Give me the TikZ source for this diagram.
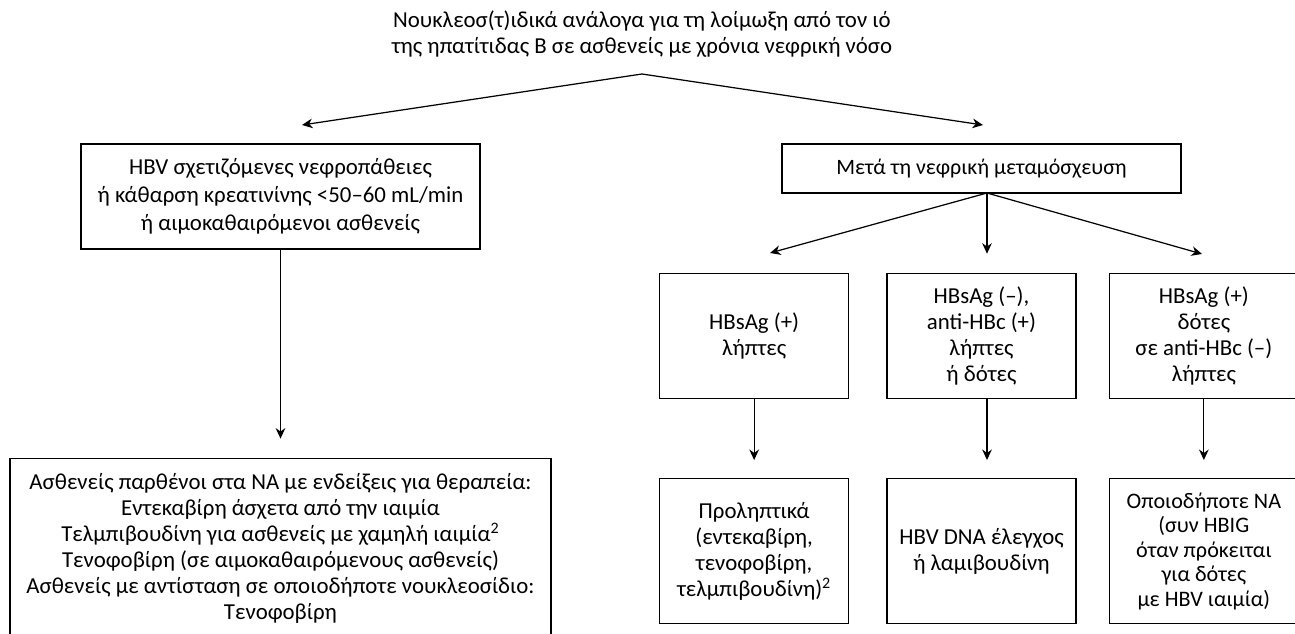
\documentclass[tikz,border=0pt]{standalone}
\usepackage{fontspec}
\setmainfont{Carlito}
\usepackage{tikz}
\usetikzlibrary{arrows.meta, positioning}

\begin{document}
\begin{tikzpicture}[x=0.02cm, y=-0.02cm,
      every node/.style={font=\fontsize{13}{14.8}\selectfont, align=center},
      box/.style={draw, line width=0.8pt, inner sep=2pt},
      arr/.style={line width=0.7pt, -{Stealth[length=6pt, width=5.5pt]}}]
      \useasboundingbox (0,0) rectangle (1295,634);
      \node (title) at (642,34) {Νουκλεοσ(τ)ιδικά ανάλογα για τη λοίμωξη από τον ιό\\
            της ηπατίτιδας Β σε ασθενείς με χρόνια νεφρική νόσο};
      \node[box, font=\fontsize{13}{15.8}\selectfont, minimum width=7.98cm, minimum height=2.1cm] (hbv) at (280.5,196.5)
            {HBV σχετιζόμενες νεφροπάθειες\\ή κάθαρση κρεατινίνης <50–60 mL/min\\ή αιμοκαθαιρόμενοι ασθενείς};
      \node[box, font=\fontsize{12.5}{14}\selectfont, minimum width=7.98cm, minimum height=0.98cm] (after) at (981.5,168.5)
            {Μετά τη νεφρική μεταμόσχευση};
      \node[box, minimum width=10.82cm, minimum height=3.6cm, below=4.16cm of hbv] (naive)
            {Ασθενείς παρθένοι στα ΝΑ με ενδείξεις για θεραπεία:\\
             Εντεκαβίρη άσχετα από την ιαιμία\\
             Τελμπιβουδίνη για ασθενείς με χαμηλή ιαιμία\textsuperscript{2}\\
             Τενοφοβίρη (σε αιμοκαθαιρόμενους ασθενείς)\\
             Ασθενείς με αντίσταση σε οποιοδήποτε νουκλεοσίδιο:\\
             Τενοφοβίρη};
      % transplant branch
      \node[box, minimum width=3.78cm, minimum height=2.5cm, below=1.58cm of after] (donmix)
            {HBsAg (–),\\anti-HBc (+)\\λήπτες\\ή δότες};
      \node[box, minimum width=3.78cm, minimum height=2.5cm, left=0.74cm of donmix] (recpos)
            {HBsAg (+)\\λήπτες};
      \node[box, minimum width=3.78cm, minimum height=2.5cm, right=0.64cm of donmix] (donpos)
            {HBsAg (+)\\δότες\\σε anti-HBc (–)\\λήπτες};
      \node[box, minimum width=3.78cm, minimum height=2.9cm, below=1.58cm of recpos] (prophyl)
            {Προληπτικά\\(εντεκαβίρη,\\τενοφοβίρη,\\τελμπιβουδίνη)\textsuperscript{2}};
      \node[box, minimum width=3.78cm, minimum height=2.9cm, below=1.58cm of donmix] (dnacheck)
            {HBV DNA έλεγχος\\ή λαμιβουδίνη};
      \node[box, font=\fontsize{12.6}{14}\selectfont, minimum width=3.78cm, minimum height=2.9cm, below=1.58cm of donpos] (anyna)
            {Οποιοδήποτε ΝΑ\\(συν HBIG\\όταν πρόκειται\\για δότες\\με HBV ιαιμία)};
      % split points and arrow ends
      \coordinate (split) at (642,74);
      \coordinate (splitL) at (302,125);
      \coordinate (splitR) at (983,125);
      \coordinate (fork) at (987,193);
      \coordinate (forkL) at (770,253);
      \coordinate (forkR) at (1202,254);
      \draw[arr] (split) -- (splitL);
      \draw[arr] (split) -- (splitR);
      \draw[arr, shorten >=0.38cm] (hbv) -- (naive);
      \draw[arr] (fork) -- (forkL);
      \draw[arr, shorten >=0.38cm] (fork) -- (donmix.north -| fork);
      \draw[arr] (fork) -- (forkR);
      \draw[arr, shorten >=0.36cm] (recpos) -- (prophyl);
      \draw[arr, shorten >=0.36cm] (donmix.south -| fork) -- (dnacheck.north -| fork);
      \draw[arr, shorten >=0.36cm] (donpos) -- (anyna);
\end{tikzpicture}
\end{document}
